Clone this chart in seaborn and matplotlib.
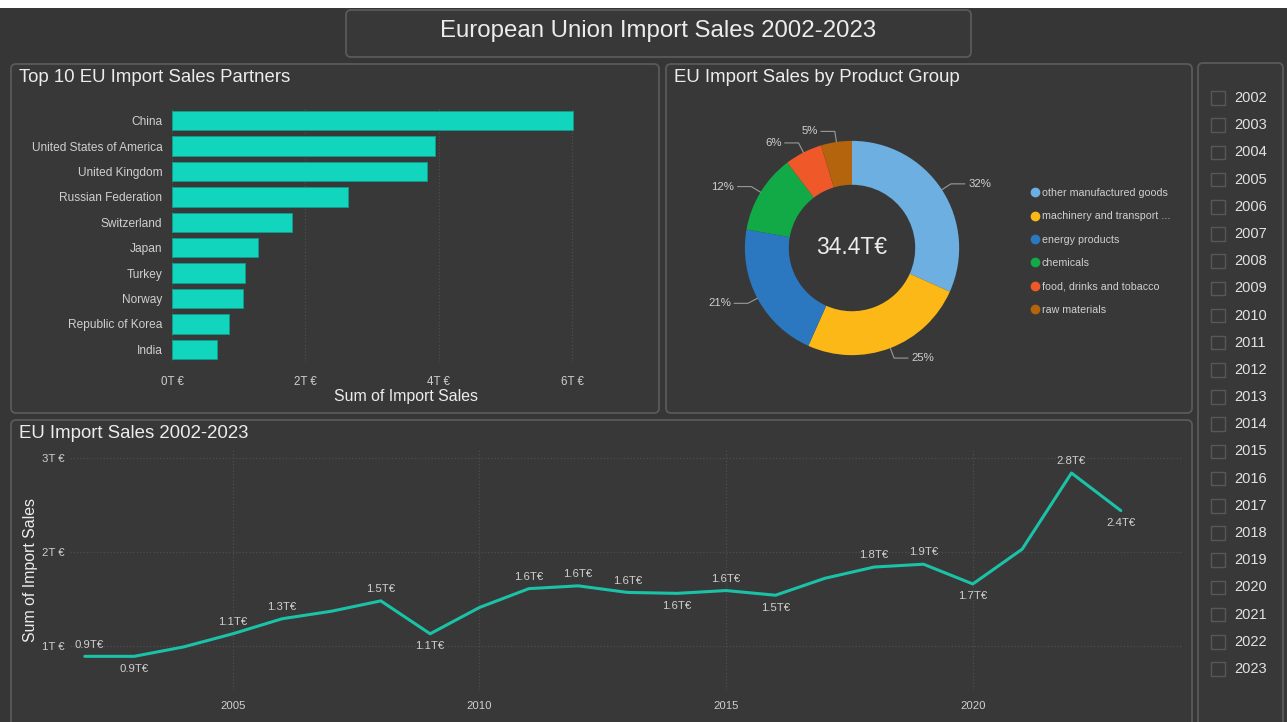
import matplotlib
matplotlib.use("Agg")
import matplotlib.pyplot as plt
import seaborn as sns
import numpy as np
import pandas as pd
from matplotlib.patches import FancyBboxPatch, Rectangle
from matplotlib.lines import Line2D

# ---- data ----
partners = ["China", "United States of America", "United Kingdom", "Russian Federation",
            "Switzerland", "Japan", "Turkey", "Norway", "Republic of Korea", "India"]
partner_sales = [6.02, 3.95, 3.83, 2.64, 1.80, 1.29, 1.10, 1.07, 0.86, 0.68]  # T EUR

product_groups = ["other manufactured goods", "machinery and transport ...", "energy products",
                  "chemicals", "food, drinks and tobacco", "raw materials"]
product_sales = [10.9, 8.6, 7.25, 4.1, 1.95, 1.6]  # T EUR
product_colors = ["#6DAFE0", "#FBB817", "#2B77C0", "#11AA46", "#EF5829", "#B3640C"]

years = [2002, 2003, 2004, 2005, 2006, 2007, 2008, 2009, 2010, 2011, 2012,
         2013, 2014, 2015, 2016, 2017, 2018, 2019, 2020, 2021, 2022, 2023]
yearly_sales = [0.89, 0.89, 0.99, 1.13, 1.29, 1.37, 1.48, 1.13, 1.41, 1.61, 1.64,
                1.57, 1.56, 1.59, 1.54, 1.72, 1.84, 1.87, 1.66, 2.03, 2.84, 2.44]
label_side = ["up", "down", None, "up", "up", None, "up", "down", None, "up", "up",
              "up", "down", "up", "down", None, "up", "up", "down", None, "up", "down"]

BG = "#363636"
PANEL = "#383838"
EDGE = "#5a5a5a"
TXT = "#ececec"
TICK = "#cfcfcf"
TEAL = "#12D5BD"
LINE = "#1AC2A8"

sns.set_theme(style="dark")
plt.rcParams["font.family"] = ["Liberation Sans", "DejaVu Sans"]

W, H = 1287, 722
fig = plt.figure(figsize=(W / 100, H / 100), dpi=100, facecolor=BG)


def px_axes(x0, y0, x1, y1):
    ax = fig.add_axes([x0 / W, 1 - y1 / H, (x1 - x0) / W, (y1 - y0) / H])
    ax.set_facecolor("none")
    for s in ax.spines.values():
        s.set_visible(False)
    return ax


def panel(x0, y0, x1, y1):
    p = FancyBboxPatch((x0 / 100, (H - y1) / 100), (x1 - x0) / 100, (y1 - y0) / 100,
                       boxstyle="round,pad=0,rounding_size=0.05",
                       transform=fig.dpi_scale_trans, fc=PANEL, ec=EDGE, lw=1.3, zorder=-5)
    fig.patches.append(p)


def ftext(x, y, s, **kw):
    return fig.text(x / W, 1 - y / H, s, **kw)


# white strip at the very top of the screenshot
fig.patches.append(Rectangle((0, (H - 8) / 100), W / 100, 0.08,
                             transform=fig.dpi_scale_trans, fc="white", ec="none", zorder=-5))

panel(346, 10, 971, 57)
panel(11, 64, 659, 413)
panel(666, 64, 1192, 413)
panel(11, 420, 1192, 730)
panel(1198, 63, 1283, 730)

ftext(658, 31, "European Union Import Sales 2002-2023", fontsize=17.3, color=TXT,
      ha="center", va="center")
ftext(19, 77, "Top 10 EU Import Sales Partners", fontsize=13.4, color=TXT, va="center")
ftext(674, 77, "EU Import Sales by Product Group", fontsize=13.4, color=TXT, va="center")
ftext(19, 434, "EU Import Sales 2002-2023", fontsize=13.4, color=TXT, va="center")

# ---- top partners bar chart ----
ax1 = px_axes(172, 108, 640, 362)
sns.barplot(x=partner_sales, y=partners, color=TEAL, saturation=1, width=0.76,
            edgecolor="#0E9F8D", linewidth=0.6, ax=ax1)
ax1.set_xlim(0, 7.02)
ax1.set_xticks([0, 2, 4, 6])
ax1.set_xticklabels([f"{v}T €" for v in [0, 2, 4, 6]])
ax1.grid(axis="x", color="#4e4e4e", ls=":", lw=0.9)
ax1.set_axisbelow(True)
ax1.tick_params(axis="x", length=0, pad=10, labelsize=8.3, colors=TICK)
ax1.tick_params(axis="y", length=0, pad=7, labelsize=8.6, colors=TICK)
ax1.set_xlabel("Sum of Import Sales", fontsize=11.4, color=TXT, labelpad=1)
ax1.set_ylabel("")

# ---- product group donut ----
ax2 = px_axes(702, 98, 1002, 398)
wedges, _ = ax2.pie(product_sales, colors=product_colors, startangle=90, counterclock=False,
                    radius=1, wedgeprops=dict(width=0.41, edgecolor="none"))
ax2.set_xlim(-1.4, 1.4)
ax2.set_ylim(-1.4, 1.4)
ax2.set_aspect("equal")
total = sum(product_sales)
for w, v in zip(wedges, product_sales):
    ang = np.deg2rad((w.theta1 + w.theta2) / 2)
    c, s = np.cos(ang), np.sin(ang)
    side = 1 if c >= 0 else -1
    p1 = (1.0 * c, 1.0 * s)
    p2 = (1.1 * c, 1.1 * s)
    p3 = (p2[0] + side * 0.13, p2[1])
    ax2.plot([p1[0], p2[0], p3[0]], [p1[1], p2[1], p3[1]], color="#9a9a9a", lw=0.8)
    ax2.text(p3[0] + side * 0.03, p3[1], f"{v / total * 100:.0f}%", fontsize=8.2,
             color=TICK, ha="left" if side > 0 else "right", va="center")
ax2.text(0, 0, f"{total:.1f}T€", fontsize=16.5, color=TXT, ha="center", va="center")

handles = [Line2D([], [], marker="o", ls="none", markersize=7, markerfacecolor=c,
                  markeredgecolor="none") for c in product_colors]
fig.legend(handles, product_groups, loc="upper left", bbox_to_anchor=(1030 / W, 1 - 188 / H),
           frameon=False, fontsize=7.7, labelcolor=TICK, handletextpad=0.1,
           labelspacing=1.25, handlelength=1.0, borderaxespad=0, borderpad=0)

# ---- yearly line chart ----
ax3 = px_axes(70, 450, 1182, 690)
df = pd.DataFrame({"year": years, "sales": yearly_sales})
sns.lineplot(data=df, x="year", y="sales", color=LINE, lw=2.2, ax=ax3)
ax3.set_xlim(2001.7, 2024.24)
ax3.set_ylim(0.532, 3.085)
ax3.set_yticks([1, 2, 3])
ax3.set_yticklabels([f"{v}T €" for v in [1, 2, 3]])
ax3.set_xticks([2005, 2010, 2015, 2020])
ax3.grid(True, color="#4e4e4e", ls=":", lw=0.9)
ax3.set_axisbelow(True)
ax3.tick_params(axis="x", length=0, pad=8, labelsize=8.2, colors=TICK)
ax3.tick_params(axis="y", length=0, pad=4, labelsize=8.2, colors=TICK)
ax3.set_xlabel("")
ax3.set_ylabel("Sum of Import Sales", fontsize=11.4, color=TXT, labelpad=3)
for yr, v, side in zip(years, yearly_sales, label_side):
    if side is None:
        continue
    dy = 8.5 if side == "up" else -9
    ax3.annotate(f"{v:.1f}T€", (yr, v), xytext=(3 if yr == 2002 else 0, dy),
                 textcoords="offset points", ha="center", va="center",
                 fontsize=8.2, color=TICK)

# ---- year slicer ----
ax4 = px_axes(1200, 64, 1283, 722)
idx = np.arange(len(years))
ax4.scatter(np.full(len(years), 0.22), idx, marker="s", s=95, facecolors="none",
            edgecolors="#575757", linewidths=1.0)
for i, yr in zip(idx, years):
    ax4.text(0.41, i, str(yr), fontsize=10.5, color="#e2e2e2", ha="left", va="center")
ax4.set_xlim(0, 1)
ax4.set_ylim(22.95, -1.25)
ax4.set_xticks([])
ax4.set_yticks([])

fig.savefig("out.png", dpi=100, facecolor=BG)
